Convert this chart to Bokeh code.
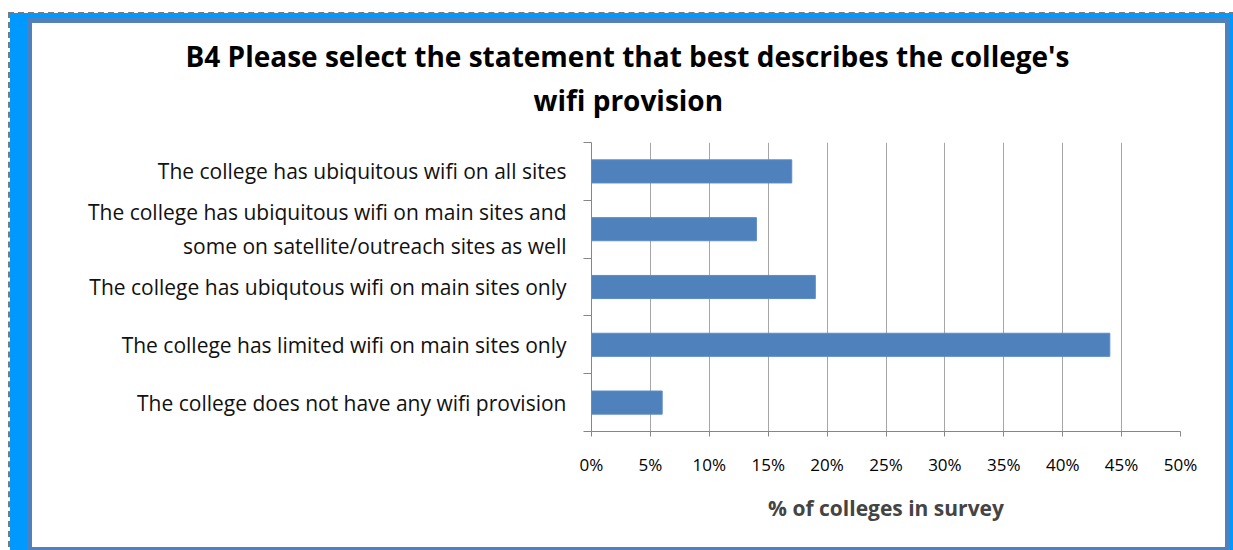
from bokeh.plotting import figure
from bokeh.models import (ColumnDataSource, Range1d, FixedTicker, PrintfTickFormatter, Title,
                          InlineStyleSheet)
from bokeh.embed import file_html
from bokeh.resources import INLINE

title_line1 = "B4 Please select the statement that best describes the college's"
title_line2 = "wifi provision"
x_title = "% of colleges in survey"
categories = [
    "The college has ubiquitous wifi on all sites",
    "The college has ubiquitous wifi on main sites and\nsome on satellite/outreach sites as well",
    "The college has ubiqutous wifi on main sites only",
    "The college has limited wifi on main sites only",
    "The college does not have any wifi provision",
]
values = [17, 14, 19, 44, 6]
x_ticks = [0, 5, 10, 15, 20, 25, 30, 35, 40, 45, 50]

n = len(categories)
ypos = [n - i - 0.5 for i in range(n)]
src = ColumnDataSource(dict(cat=categories, val=values, y=ypos))

FONT = "Open Sans"

p = figure(width=1193, height=524, output_backend="svg", toolbar_location=None,
           x_range=Range1d(0, 50), y_range=Range1d(0, n),
           min_border_left=559, min_border_right=45, min_border_top=119, min_border_bottom=116,
           frame_width=589, frame_height=289)
p.margin = (23, 0, 0, 32)
p.styles = {
    "box-shadow": "0 0 0 5px #4f81bd, -7px 5px 0 15px #0099ff",
}
p.stylesheets = [InlineStyleSheet(css="""
:host { position: relative; overflow: visible; }
:host::before {
  content: "";
  position: absolute;
  left: -24px; top: -11px; right: -40px; bottom: -40px;
  border-left: 2px dashed #7a7a7a;
  border-top: 2px dashed #7a7a7a;
  pointer-events: none;
  z-index: 10;
}
""")]
p.outline_line_color = None
p.background_fill_color = "white"
p.border_fill_color = "white"

p.hbar(y="y", right="val", left=0, height=0.4, source=src,
       fill_color="#4f81bd", line_color="#5b8cc7", line_width=1)

# x axis
xa = p.xaxis[0]
xa.ticker = FixedTicker(ticks=x_ticks)
xa.formatter = PrintfTickFormatter(format="%d%%")
xa.axis_line_color = "#868686"
xa.major_tick_line_color = "#868686"
xa.major_tick_out = 5
xa.major_tick_in = 0
xa.minor_tick_line_color = None
xa.major_label_text_font = FONT
xa.major_label_text_font_size = "17px"
xa.major_label_text_color = "#000000"
xa.major_label_standoff = 16
xa.axis_label = x_title
xa.axis_label_text_font = FONT
xa.axis_label_text_font_style = "bold"
xa.axis_label_text_font_size = "21px"
xa.axis_label_standoff = 15

# y axis: labels at category centres, minor ticks at category boundaries
ya = p.yaxis[0]
ya.ticker = FixedTicker(ticks=ypos, minor_ticks=list(range(n + 1)))
ya.major_label_overrides = {y: c for y, c in zip(ypos, categories)}
ya.axis_line_color = "#868686"
ya.major_tick_line_color = None
ya.major_tick_out = 0
ya.major_tick_in = 0
ya.minor_tick_line_color = "#868686"
ya.minor_tick_out = 8
ya.minor_tick_in = 0
ya.major_label_standoff = 17
ya.major_label_text_font = FONT
ya.major_label_text_font_size = "21px"
ya.major_label_text_color = "#111111"

p.xgrid.grid_line_color = "#a6a6a6"
p.xgrid.grid_line_width = 1
p.ygrid.grid_line_color = None

# two-line title, each line centred on the chart area
p.title = None
t2 = Title(text=title_line2, align="left", offset=-58, standoff=48,
           text_font=FONT, text_font_style="bold", text_font_size="28px",
           text_color="#000000")
t1 = Title(text=title_line1, align="left", offset=-406, standoff=-40,
           text_font=FONT, text_font_style="bold", text_font_size="28px",
           text_color="#000000")
p.add_layout(t2, "above")
p.add_layout(t1, "above")

open("out.html", "w").write(file_html(p, INLINE))
